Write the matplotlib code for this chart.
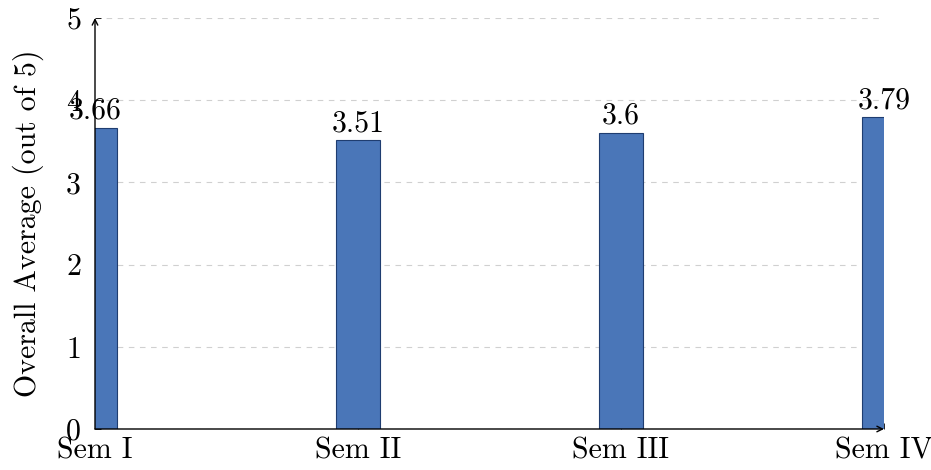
import matplotlib

matplotlib.use("Agg")
import matplotlib.pyplot as plt

semesters = ["Sem I", "Sem II", "Sem III", "Sem IV"]
averages = [3.66, 3.51, 3.6, 3.79]
labels = ["3.66", "3.51", "3.6", "3.79"]

plt.rcParams["font.family"] = "serif"
plt.rcParams["font.serif"] = ["cmr10", "DejaVu Serif"]
plt.rcParams["mathtext.fontset"] = "cm"
plt.rcParams["axes.formatter.use_mathtext"] = True

fig = plt.figure(figsize=(9.31, 4.70), dpi=100)
ax = fig.add_axes([95 / 931, 41 / 470, 789 / 931, 411 / 470])

x = list(range(len(semesters)))
ax.bar(x, averages, width=0.167, color="#4a76b8", edgecolor="#1f3d70", linewidth=0.8, zorder=2)
for xi, v, lab in zip(x, averages, labels):
    ax.text(xi, v + 0.04, lab, ha="center", va="bottom", fontsize=21.5, clip_on=False, zorder=3)

ax.set_xlim(0, 3)
ax.set_ylim(0, 5)
ax.set_xticks(x)
ax.set_xticklabels(semesters, fontsize=21.5)
ax.set_yticks(range(6))
ax.set_yticklabels([str(i) for i in range(6)], fontsize=21.5)
ax.tick_params(axis="both", direction="in", length=4, width=0.6)
ax.tick_params(axis="x", pad=6)
ax.tick_params(axis="y", pad=10)
ax.set_ylabel("Overall Average (out of 5)", fontsize=21.5, labelpad=16)

ax.yaxis.grid(True, linestyle=(0, (5, 5)), color="#d0d0d0", linewidth=0.8, zorder=0)
for s in ["top", "right", "left", "bottom"]:
    ax.spines[s].set_visible(False)

ax.annotate("", xy=(0, 1), xytext=(0, 0), xycoords="axes fraction",
            arrowprops=dict(arrowstyle="->", color="black", lw=1.0, shrinkA=0, shrinkB=0), zorder=4)
ax.annotate("", xy=(1, 0), xytext=(0, 0), xycoords="axes fraction",
            arrowprops=dict(arrowstyle="->", color="black", lw=1.0, shrinkA=0, shrinkB=0), zorder=4)

fig.savefig("out.png", dpi=100)
